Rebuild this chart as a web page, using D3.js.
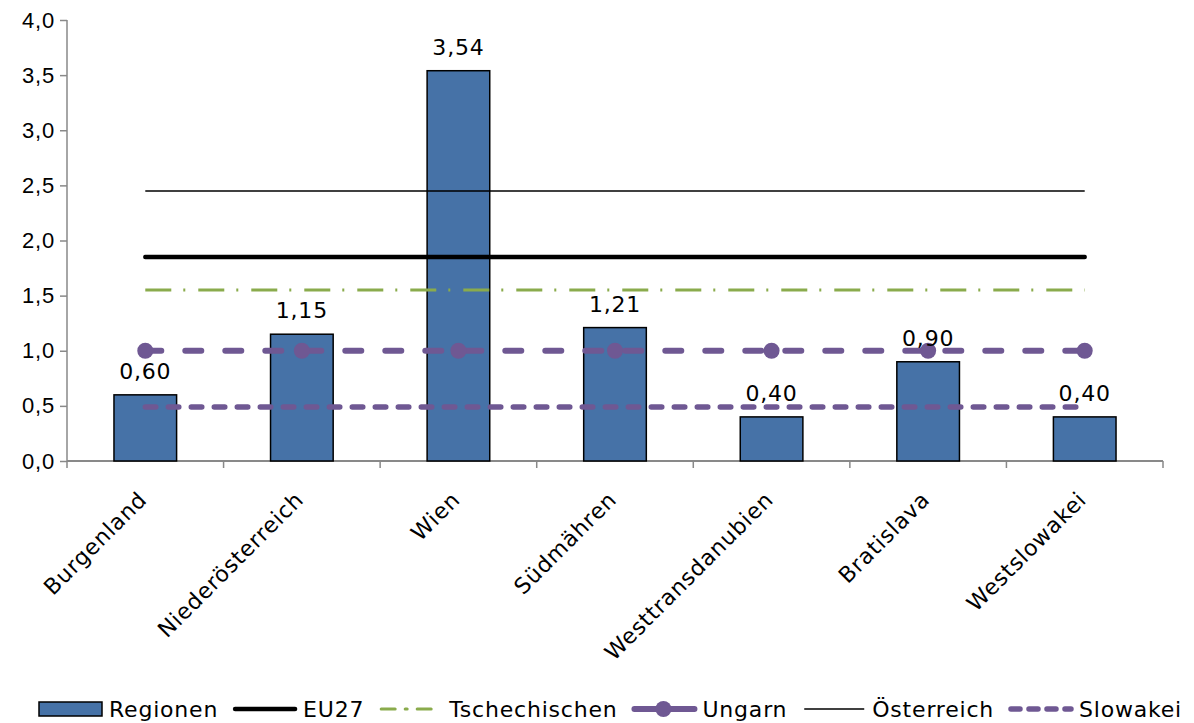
<!DOCTYPE html>
<html>
<head>
<meta charset="utf-8">
<script src="https://cdn.jsdelivr.net/npm/d3@7"></script>
<style>
  html, body { margin: 0; padding: 0; background: #fff; }
  svg { display: block; font-family: "Century Gothic", "DejaVu Sans", sans-serif; }
  svg text { letter-spacing: 0.8px; }
</style>
</head>
<body>
<svg id="chart" width="1194" height="723"></svg>
<script>
// Regions and their values
const regions = ["Burgenland", "Niederösterreich", "Wien", "Südmähren", "Westtransdanubien", "Bratislava", "Westslowakei"];
const regionValues = [0.60, 1.15, 3.54, 1.21, 0.40, 0.90, 0.40];

// Reference levels (constant across regions)
const eu27 = [1.85, 1.85, 1.85, 1.85, 1.85, 1.85, 1.85];
const tschechien = [1.55, 1.55, 1.55, 1.55, 1.55, 1.55, 1.55];
const ungarn = [1.00, 1.00, 1.00, 1.00, 1.00, 1.00, 1.00];
const oesterreich = [2.45, 2.45, 2.45, 2.45, 2.45, 2.45, 2.45];
const slowakei = [0.49, 0.49, 0.49, 0.49, 0.49, 0.49, 0.49];

const yTicks = [0, 0.5, 1.0, 1.5, 2.0, 2.5, 3.0, 3.5, 4.0];

const svg = d3.select("#chart");
const margin = { left: 67, right: 31, top: 20, bottom: 262 };
const W = 1194, H = 723;
const FS = 22;
const fmt1 = d3.format(".1f");
const fmt2 = d3.format(".2f");
const comma = s => s.replace(".", ",");

const x = d3.scaleBand().domain(regions).range([margin.left, W - margin.right]).paddingInner(0).paddingOuter(0);
const y = d3.scaleLinear().domain([0, 4]).range([H - margin.bottom, margin.top]);

const purple = "#6f5893";
const green = "#8aab4c";
const barBlue = "#4672a7";
const axisGrey = "#898989";

// Axes
const yAxis = svg.append("g").attr("transform", `translate(${margin.left},0)`)
  .call(d3.axisLeft(y).tickValues(yTicks).tickSize(7).tickPadding(5).tickFormat(d => comma(fmt1(d))));
yAxis.select(".domain").attr("stroke", axisGrey).attr("stroke-width", 1.5).attr("d", `M0,${y(4)}V${y(0)}`);
yAxis.selectAll(".tick line").attr("stroke", axisGrey).attr("stroke-width", 1.5);
yAxis.selectAll(".tick text").attr("fill", "#000").attr("font-size", FS).attr("font-family", "inherit");

const xAxisG = svg.append("g").attr("transform", `translate(0,${y(0)})`);
xAxisG.append("line").attr("x1", margin.left).attr("x2", W - margin.right)
  .attr("stroke", axisGrey).attr("stroke-width", 2);
const boundaries = regions.map(r => x(r)).concat([x(regions[regions.length - 1]) + x.bandwidth()]);
xAxisG.selectAll(".xt").data(boundaries).join("line").attr("class", "xt")
  .attr("x1", d => d).attr("x2", d => d).attr("y1", 0).attr("y2", 7)
  .attr("stroke", axisGrey).attr("stroke-width", 1.5);
xAxisG.selectAll(".xl").data(regions).join("text").attr("class", "xl")
  .attr("transform", d => `translate(${x(d) + x.bandwidth() / 2 + 3},${40}) rotate(-45)`)
  .attr("text-anchor", "end").attr("font-size", FS).attr("fill", "#000")
  .text(d => d);

// Bars
const barW = x.bandwidth() * 0.4;
svg.append("g").selectAll("rect").data(regionValues).join("rect")
  .attr("x", (d, i) => x(regions[i]) + (x.bandwidth() - barW) / 2)
  .attr("y", d => y(d))
  .attr("width", barW)
  .attr("height", d => y(0) - y(d))
  .attr("fill", barBlue).attr("stroke", "#000").attr("stroke-width", 1.5);

// Reference lines
const cx = (d, i) => x(regions[i]) + x.bandwidth() / 2;
const lineGen = d3.line().x(cx).y(d => y(d));
const series = [
  { name: "Österreich", data: oesterreich, stroke: "#000", width: 1.5, dash: null, cap: "butt" },
  { name: "EU27", data: eu27, stroke: "#000", width: 4.5, dash: null, cap: "round" },
  { name: "Tschechischen", data: tschechien, stroke: green, width: 3, dash: "26,12,2,13", cap: "butt" },
  { name: "Ungarn", data: ungarn, stroke: purple, width: 6, dash: "16,24", cap: "round" },
  { name: "Slowakei", data: slowakei, stroke: purple, width: 5.5, dash: "10.5,12.5", cap: "round" }
];
series.forEach(s => {
  svg.append("path").datum(s.data).attr("d", lineGen)
    .attr("fill", "none").attr("stroke", s.stroke).attr("stroke-width", s.width)
    .attr("stroke-dasharray", s.dash).attr("stroke-linecap", s.cap);
});
// Ungarn markers
svg.append("g").selectAll("circle").data(ungarn).join("circle")
  .attr("cx", cx).attr("cy", d => y(d)).attr("r", 8).attr("fill", purple);

// Value labels
svg.append("g").selectAll("text").data(regionValues).join("text")
  .attr("x", cx).attr("y", d => y(d) - 16)
  .attr("text-anchor", "middle").attr("font-size", FS).attr("fill", "#000")
  .text(d => comma(fmt2(d)));

// Legend
const legendItems = [
  { name: "Regionen", type: "bar" },
  { name: "EU27", type: "line", stroke: "#000", width: 4.5, dash: null },
  { name: "Tschechischen", type: "line", stroke: green, width: 3, dash: "14,10,2,10" },
  { name: "Ungarn", type: "marker", stroke: purple, width: 6, dash: null },
  { name: "Österreich", type: "line", stroke: "#000", width: 1.5, dash: null },
  { name: "Slowakei", type: "line", stroke: purple, width: 5.5, dash: "9,9" }
];
const legend = svg.append("g").attr("transform", "translate(0,709)");
const groups = legendItems.map(it => {
  const g = legend.append("g");
  if (it.type === "bar") {
    g.append("rect").attr("x", 1).attr("y", -7).attr("width", 63).attr("height", 14)
      .attr("fill", barBlue).attr("stroke", "#000").attr("stroke-width", 1.5);
  } else {
    g.append("line").attr("x1", 3).attr("x2", 63).attr("y1", 0).attr("y2", 0)
      .attr("stroke", it.stroke).attr("stroke-width", it.width)
      .attr("stroke-dasharray", it.dash).attr("stroke-linecap", it.width < 2 ? "butt" : "round");
    if (it.type === "marker") g.append("circle").attr("cx", 32).attr("cy", 0).attr("r", 8).attr("fill", it.stroke);
  }
  const t = g.append("text").attr("x", 71).attr("y", 8).attr("font-size", FS).attr("fill", "#000").text(it.name);
  return { g, w: 71 + t.node().getComputedTextLength() };
});
// spread the items across the legend row
const startX = 38, endX = 1182;
const totalW = d3.sum(groups, d => d.w);
const gap = (endX - startX - totalW) / (groups.length - 1);
let lx = startX;
groups.forEach(d => { d.g.attr("transform", `translate(${lx},0)`); lx += d.w + gap; });
</script>
</body>
</html>
